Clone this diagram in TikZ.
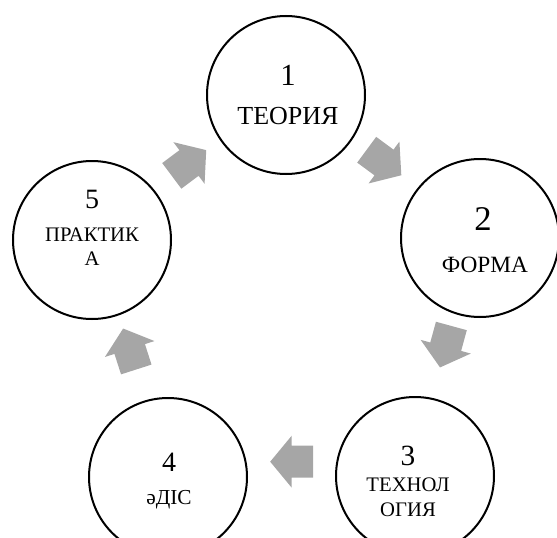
\documentclass[tikz,border=0pt]{standalone}
\usepackage{fontspec}
\setmainfont{Liberation Serif}
\usetikzlibrary{calc}
\definecolor[named]{ArrowGray}{RGB}{166,166,166}
\newcommand{\sz}[2]{\fontsize{#1}{#2}\selectfont}
\tikzset{stage/.style={draw,circle,line width=1.5pt,minimum size=118.5pt,inner sep=0pt}}
\tikzset{num/.style={inner sep=0pt}}
\tikzset{word/.style={inner sep=0pt,align=center}}
\tikzset{turn/.pic={ %{{{
  \fill[ArrowGray] (-21.5,-16) -- (0,-16) -- (0,-26) -- (21.5,0)
    -- (0,26) -- (0,16) -- (-21.5,16) -- cycle;
}}
%}}}

\begin{document}
\begin{tikzpicture}[x=0.75pt,y=0.75pt]
  \useasboundingbox (0,0) rectangle (557,537);
  \clip (0,0) rectangle (557,537);

  % Stages {{{
  \node[stage] (c1) at (286,442) {};
  \node[stage] (c2) at (480,299) {};
  \node[stage] (c3) at (415,61) {};
  \node[stage] (c4) at (168,60) {};
  \node[stage] (c5) at (92,297) {};

  \node[num,font=\sz{23}{23}] (n1) at ($(c1)+(2,20)$) {1};
  \node[word,font=\sz{19.5}{22}] (t1) at ($(c1)+(2,-21)$) {ТЕОРИЯ};
  \node[num,font=\sz{26}{26}] (n2) at ($(c2)+(3,19)$) {2};
  \node[word,font=\sz{17.5}{20}] (t2) at ($(c2)+(5,-27)$) {ФОРМА};
  \node[num,font=\sz{22}{22}] (n3) at ($(c3)+(-7,20)$) {3};
  \node[word,font=\sz{15.5}{18.5}] (t3) at ($(c3)+(-7,-21.5)$) {ТЕХНОЛ\\ОГИЯ};
  \node[num,font=\sz{21}{21}] (n4) at ($(c4)+(1,15)$) {4};
  \node[word,font=\sz{16}{18}] (t4) at ($(c4)+(1,-23)$) {әДІС};
  \node[num,font=\sz{21}{21}] (n5) at ($(c5)+(0,41)$) {5};
  \node[word,font=\sz{15.5}{18}] (t5) at ($(c5)+(0,-7)$) {ПРАКТИК\\А};
  % }}}

  % Arrows {{{
  \pic[rotate=-36.4] (a12) at (384,374.5) {turn};
  \pic[rotate=-105.3] (a23) at (445.7,190.3) {turn};
  \pic[rotate=180] (a34) at (291.7,75.3) {turn};
  \pic[rotate=107.8] (a45) at (129.7,188) {turn};
  \pic[rotate=36.8] (a51) at (189,374) {turn};
  % }}}
\end{tikzpicture}
\end{document}
